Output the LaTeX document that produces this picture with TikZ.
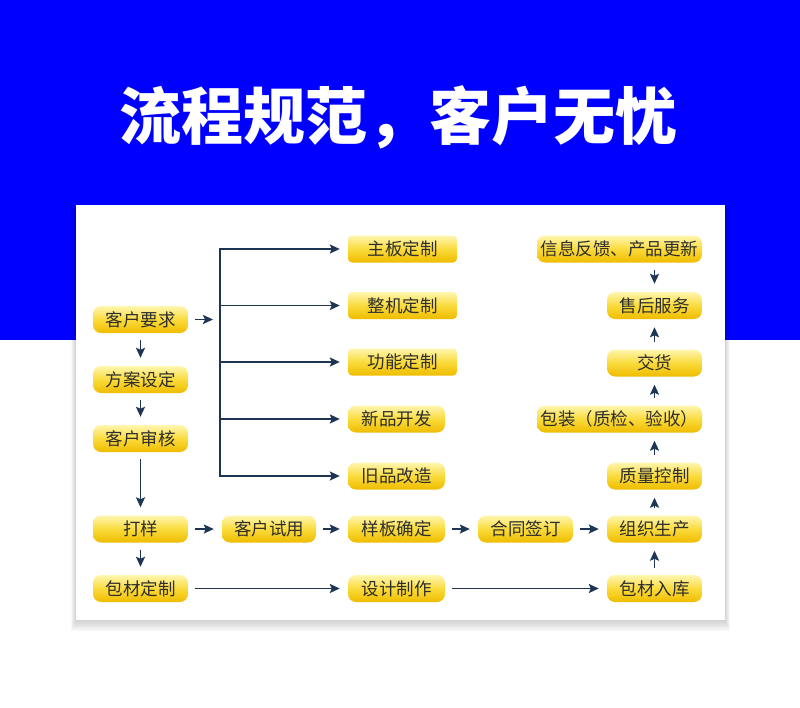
\documentclass[tikz,border=0pt]{standalone}
\usepackage{fontspec}
\usepackage{xcolor}
\usetikzlibrary{arrows.meta, positioning, calc}

\newfontfamily\cjk{Noto Sans CJK SC}

\definecolor{bandblue}{HTML}{0000FF}
\definecolor{arrowblue}{HTML}{1E3654}
\definecolor{boxtop}{HTML}{FFF6B0}
\definecolor{boxmid}{HTML}{FADB3C}
\definecolor{boxbot}{HTML}{EFBC00}
\definecolor{boxtext}{HTML}{2E2E2E}

\begin{document}
\begin{tikzpicture}[x=1pt, y=-1pt,
  box/.style={rounded corners=8pt, top color=boxtop, bottom color=boxbot,
              middle color=boxmid, minimum height=27pt, inner sep=0pt,
              font=\cjk\fontsize{17.5}{19}\selectfont, text=boxtext},
  lbox/.style={box, minimum width=95pt},
  mbox/.style={box, minimum width=97pt},
  wbox/.style={box, minimum width=109pt, rounded corners=4pt},
  xbox/.style={box, minimum width=165pt},
  arr/.style={-{Stealth[length=10pt, width=9pt, inset=2pt]}, line width=1.9pt,
              arrowblue, shorten >=8pt, shorten <=7pt},
  bus/.style={line width=1.9pt, arrowblue},
]
\useasboundingbox (0,0) rectangle (800,707);

% --- Background ---
\fill[bandblue] (0,0) rectangle (800,340);
\foreach \i in {1,...,8}
  \fill[black, opacity=0.025] (76-\i*0.6, 205+\i*0.5) rectangle (725+\i*0.6, 620+\i*1.4);
\fill[white] (76,205) rectangle (725,620);

% --- Title ---
\node[font=\cjk\bfseries\fontsize{62}{62}\selectfont, text=white]
  (title) at (398,117) {流程规范，客户无忧};

% --- Left column ---
\node[lbox] (req)    at (140.5,319.5) {客户要求};
\node[lbox] (plan)   at (140.5,379.5) {方案设定};
\node[lbox] (review) at (140.5,438.5) {客户审核};
\node[lbox] (sample) at (140.5,529)   {打样};
\node[lbox] (pack)   at (140.5,588.5) {包材定制};

% --- Middle column ---
\node[wbox] (board)  at (402.5,249)   {主板定制};
\node[wbox] (whole)  at (402.5,305.5) {整机定制};
\node[wbox] (func)   at (402.5,362)   {功能定制};
\node[mbox] (newp)   at (396.5,419)   {新品开发};
\node[mbox] (oldp)   at (396.5,476)   {旧品改造};
\node[mbox] (proto)  at (396.5,529)   {样板确定};
\node[mbox] (design) at (396.5,588.5) {设计制作};

\node[lbox, minimum width=94pt] (trial)    at (269,529)   {客户试用};
\node[lbox]                     (contract) at (525.5,529) {合同签订};

% --- Right column ---
\node[lbox] (prod)    at (654.5,529)   {组织生产};
\node[lbox] (store)   at (654.5,588.5) {包材入库};
\node[lbox] (qc)      at (654.5,476)   {质量控制};
\node[xbox] (packing) at (619.5,419)   {包装（质检、验收）};
\node[lbox] (deliver) at (654.5,363)   {交货};
\node[lbox] (service) at (654.5,305.5) {售后服务};
\node[xbox] (feedback) at (619.5,249)  {信息反馈、产品更新};

% --- Branch from customer request ---
\coordinate (gap) at (213,0);
\coordinate (fork) at (220,0);
\draw[arr, shorten >=0pt] (req) -- (req -| gap);
\draw[bus] (fork |- board) -- (fork |- oldp);
\foreach \n in {board, whole, func, newp, oldp}
  \draw[arr, shorten <=-0.95pt] (fork |- \n) -- (\n);

% --- Flow arrows ---
\draw[arr] (req) -- (plan);
\draw[arr] (plan) -- (review);
\draw[arr] (review) -- (sample);
\draw[arr] (sample) -- (pack);
\draw[arr] (sample) -- (trial);
\draw[arr] (trial) -- (proto);
\draw[arr] (proto) -- (contract);
\draw[arr] (contract) -- (prod);
\draw[arr] (pack) -- (design);
\draw[arr] (design) -- (store);
\draw[arr] (store) -- (prod);
\draw[arr] (prod) -- (qc);
\draw[arr] (qc) -- (deliver |- packing.south);
\draw[arr] (deliver |- packing.north) -- (deliver);
\draw[arr] (deliver) -- (service);
\draw[arr] (service |- feedback.south) -- (service);

\end{tikzpicture}
\end{document}
